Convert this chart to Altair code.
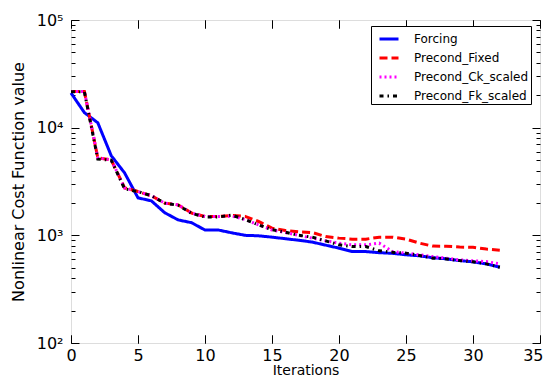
import altair as alt
import pandas as pd

iterations = list(range(33))
forcing = [21000, 13800, 11100, 5500, 3800, 2230, 2090, 1620, 1390, 1310, 1120, 1120, 1055,
           1000, 990, 962, 930, 900, 866, 811, 760, 707, 707, 690, 680, 660, 645, 620, 605,
           583, 567, 543, 506]
precond_fixed = [21700, 21700, 5250, 5030, 2760, 2550, 2330, 1990, 1920, 1610, 1495, 1495, 1530,
                 1500, 1345, 1166, 1110, 1078, 1062, 975, 942, 922, 922, 962, 962, 922, 846, 794,
                 793, 778, 775, 745, 728]
precond_ck = [21700, 21700, 5250, 5030, 2760, 2550, 2330, 1990, 1920, 1610, 1495, 1495, 1510,
              1400, 1250, 1120, 1060, 1000, 942, 889, 846, 816, 816, 846, 707, 683, 660, 635,
              614, 592, 580, 570, 543]
precond_fk = [21500, 21500, 5100, 5000, 2700, 2550, 2330, 1990, 1900, 1600, 1480, 1480, 1540,
              1400, 1250, 1130, 1070, 1000, 962, 889, 816, 787, 787, 718, 697, 683, 650, 614,
              604, 583, 567, 543, 506]

series_names = ["Forcing", "Precond_Fixed", "Precond_Ck_scaled", "Precond_Fk_scaled"]
series_colors = ["#0000ff", "#ff0000", "#ff00ff", "#000000"]
series_dashes = [[1, 0], [8, 4], [2, 3], [4, 4, 1.5, 4]]
series_widths = [3, 3, 2.5, 3]

x_ticks = [0, 5, 10, 15, 20, 25, 30, 35]
y_major = [100, 1000, 10000, 100000]
y_minor = [m * 10 ** e for e in (2, 3, 4) for m in range(2, 10)]

rows = []
for name, vals in zip(series_names, [forcing, precond_fixed, precond_ck, precond_fk]):
    for it, v in zip(iterations, vals):
        rows.append({"Iteration": it, "Cost": v, "Series": name})
df = pd.DataFrame(rows)

FONT = "DejaVu Sans"
xs = alt.Scale(domain=[0, 35], nice=False)
ys = alt.Scale(type="log", domain=[100, 100000], nice=False)

label_expr = ("datum.value == 100 ? '10\u00b2' : datum.value == 1000 ? '10\u00b3' : "
              "datum.value == 10000 ? '10\u2074' : '10\u2075'")

base = alt.Chart(df)

legend = alt.Legend(title=None, orient="none", legendX=300, legendY=6,
                    symbolType="stroke", symbolSize=361, symbolStrokeWidth=2.5,
                    symbolOffset=5,
                    labelFontSize=12, labelFont=FONT, labelColor="black",
                    labelExpr="datum.label + '\u00a0\u00a0\u00a0\u00a0'",
                    strokeColor="black", fillColor="white", padding=2, rowPadding=2,
                    cornerRadius=0, labelOffset=14, labelLimit=300)

lines = base.mark_line(strokeCap="butt", strokeJoin="miter").encode(
    x=alt.X("Iteration:Q", scale=xs,
            axis=alt.Axis(values=x_ticks, title="Iterations", tickSize=0, domain=False,
                          grid=False, labelPadding=4, labelFontSize=16, titleFontSize=14,
                          titleFontWeight="normal", titlePadding=0, labelColor="black",
                          titleColor="black", labelFlush=False,
                          labelAlign={"condition": {"test": "datum.value == 35", "value": "right"},
                                      "value": "center"},
                          labelOffset={"condition": {"test": "datum.value == 35", "value": 3},
                                       "value": 0})),
    y=alt.Y("Cost:Q", scale=ys,
            axis=alt.Axis(values=y_major, labelExpr=label_expr,
                          title="Nonlinear Cost Function value", tickSize=0, domain=False,
                          grid=False, labelPadding=8, labelFontSize=16, titleFontSize=16,
                          titleFontWeight="normal", titlePadding=10, labelColor="black",
                          titleColor="black")),
    color=alt.Color("Series:N", scale=alt.Scale(domain=series_names, range=series_colors),
                    legend=legend),
    strokeDash=alt.StrokeDash("Series:N", scale=alt.Scale(domain=series_names, range=series_dashes),
                              legend=legend),
    strokeWidth=alt.StrokeWidth("Series:N", scale=alt.Scale(domain=series_names, range=series_widths),
                                legend=None),
)


def tick_layer(x_axis, y_axis):
    return base.mark_line(opacity=0).encode(
        x=alt.X("Iteration:Q", scale=xs, axis=x_axis),
        y=alt.Y("Cost:Q", scale=ys, axis=y_axis),
        detail="Series:N",
    )


def tick_axis(orient, values, size):
    return alt.Axis(orient=orient, values=values, labels=False, domain=False, grid=False,
                    tickSize=size, offset=-size, title=None, tickColor="black", tickWidth=1)


t1 = tick_layer(tick_axis("bottom", x_ticks, 8), tick_axis("left", y_major, 8))
t2 = tick_layer(tick_axis("top", x_ticks, 8), tick_axis("right", y_major, 8))
t3 = tick_layer(tick_axis("bottom", x_ticks, 8), tick_axis("left", y_minor, 4))
t4 = tick_layer(tick_axis("top", x_ticks, 8), tick_axis("right", y_minor, 4))

chart = alt.layer(lines, t1, t2, t3, t4).resolve_axis(
    x="independent", y="independent"
).properties(
    width=469, height=323,
    autosize=alt.AutoSizeParams(type="none"),
    padding={"left": 63, "top": 12, "right": 4, "bottom": 34},
).configure_view(
    stroke="black", strokeWidth=1
).configure(font=FONT)

chart.save("out.html", embed_options={"renderer": "svg", "actions": False})
